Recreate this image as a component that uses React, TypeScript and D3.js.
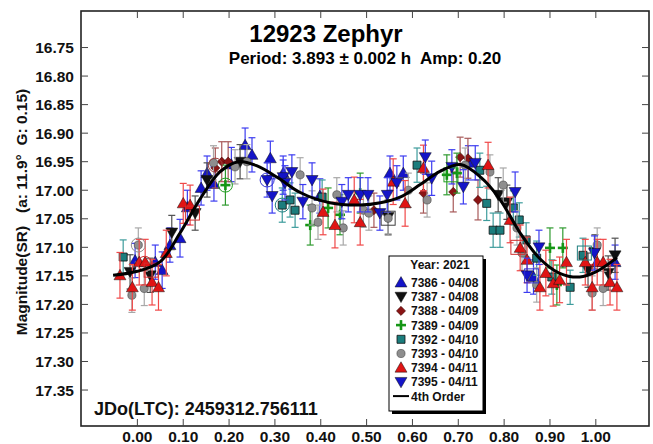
import React from "react";
import * as d3 from "d3";

// Phase-folded photometry, one array per session: [phase, magnitude, error]
const s7386: number[][] = [
  [-0.005, 17.123, 0.03], [0.039, 17.126, 0.03], [0.054, 17.14, 0.032], [0.071, 17.096, 0.03],
  [0.093, 17.084, 0.033], [0.109, 17.03, 0.03], [0.139, 16.996, 0.03], [0.152, 16.97, 0.03],
  [0.167, 16.989, 0.03], [0.205, 16.955, 0.03], [0.235, 16.921, 0.03], [0.25, 16.938, 0.03],
  [0.29, 16.944, 0.03], [0.318, 16.97, 0.03], [0.398, 17.01, 0.03], [0.551, 16.97, 0.03],
  [0.58, 16.97, 0.03], [0.722, 16.952, 0.03], [0.864, 17.152, 0.03], [1.042, 17.126, 0.03],
];
const s7387: number[][] = [
  [-0.016, 17.143, 0.03], [0.028, 17.149, 0.03], [0.075, 17.074, 0.03], [0.126, 17.04, 0.03],
  [0.152, 16.982, 0.03], [0.224, 16.95, 0.03], [0.547, 17.047, 0.03], [0.787, 17.008, 0.03],
  [0.806, 17.021, 0.03], [0.983, 17.14, 0.03], [0.998, 17.108, 0.03], [1.027, 17.145, 0.03],
  [1.042, 17.114, 0.03],
];
const s7388: number[][] = [
  [0.17, 16.961, 0.035], [0.184, 16.95, 0.035], [0.198, 16.95, 0.035], [0.516, 17.035, 0.03],
  [0.624, 17.005, 0.035], [0.689, 17.003, 0.035], [0.704, 16.942, 0.035], [0.721, 16.944, 0.035],
  [0.743, 17.017, 0.035],
];
const s7389: number[][] = [
  [0.192, 16.991, 0.035], [0.377, 17.061, 0.035], [0.416, 17.031, 0.035], [0.442, 17.043, 0.035],
  [0.486, 17.005, 0.035], [0.675, 16.973, 0.035], [0.697, 16.97, 0.035], [0.9, 17.101, 0.035],
  [0.915, 17.166, 0.035], [0.928, 17.101, 0.035],
];
const s7392: number[][] = [
  [-0.031, 17.117, 0.03], [0.316, 17.026, 0.03], [0.333, 17.017, 0.03], [0.344, 17.035, 0.03],
  [0.403, 17.012, 0.03], [0.61, 16.956, 0.03], [0.747, 16.965, 0.03], [0.762, 17.023, 0.03],
  [0.776, 17.07, 0.03], [0.791, 17.07, 0.03], [0.82, 17.031, 0.03], [0.833, 17.052, 0.03],
  [0.848, 17.087, 0.03], [0.871, 17.119, 0.03], [0.904, 17.152, 0.03], [0.944, 17.17, 0.03],
  [0.972, 17.114, 0.03],
];
const s7393: number[][] = [
  [-0.012, 17.184, 0.03], [0.002, 17.096, 0.03], [0.015, 17.172, 0.03], [0.166, 16.952, 0.03],
  [0.213, 16.959, 0.03], [0.239, 16.95, 0.03], [0.355, 16.973, 0.03], [0.381, 17.031, 0.03],
  [0.394, 17.056, 0.03], [0.435, 17.008, 0.03], [0.449, 17.066, 0.03], [0.493, 17.035, 0.03],
  [0.505, 17.04, 0.03], [0.547, 17.049, 0.03], [0.591, 17.0, 0.03], [0.632, 17.017, 0.03],
  [0.715, 16.956, 0.03], [0.769, 16.968, 0.03], [0.798, 16.991, 0.03], [0.828, 17.066, 0.03],
  [0.839, 17.11, 0.03], [0.871, 17.166, 0.03], [0.992, 17.18, 0.03], [1.003, 17.096, 0.03],
  [1.016, 17.172, 0.03],
];
const s7394: number[][] = [
  [-0.038, 17.149, 0.04], [-0.011, 17.17, 0.04], [0.004, 17.126, 0.04], [0.017, 17.126, 0.04],
  [0.032, 17.161, 0.04], [0.046, 17.17, 0.04], [0.063, 17.11, 0.04], [0.1, 17.023, 0.035],
  [0.115, 17.026, 0.035], [0.405, 17.038, 0.04], [0.431, 17.061, 0.04], [0.473, 17.017, 0.04],
  [0.486, 17.056, 0.04], [0.558, 16.985, 0.04], [0.584, 17.023, 0.04], [0.624, 16.961, 0.04],
  [0.765, 16.956, 0.04], [0.813, 17.052, 0.04], [0.835, 17.101, 0.04], [0.85, 17.122, 0.04],
  [0.878, 17.17, 0.04], [0.891, 17.145, 0.04], [0.907, 17.163, 0.04], [0.921, 17.157, 0.04],
  [0.936, 17.126, 0.04], [0.977, 17.126, 0.04], [0.992, 17.17, 0.04], [1.003, 17.126, 0.04],
  [1.016, 17.126, 0.04], [1.031, 17.161, 0.04], [1.046, 17.17, 0.04],
];
const s7395: number[][] = [
  [0.283, 16.982, 0.03], [0.294, 17.01, 0.03], [0.318, 16.977, 0.03], [0.322, 16.987, 0.03],
  [0.337, 16.968, 0.03], [0.361, 17.02, 0.03], [0.381, 16.982, 0.03], [0.446, 17.02, 0.03],
  [0.46, 17.008, 0.03], [0.486, 17.008, 0.03], [0.503, 17.008, 0.03], [0.529, 17.04, 0.03],
  [0.545, 17.008, 0.03], [0.566, 16.987, 0.03], [0.628, 16.942, 0.03], [0.642, 16.979, 0.03],
  [0.686, 16.959, 0.03], [0.711, 16.994, 0.03], [0.737, 16.952, 0.03], [0.824, 17.003, 0.035],
  [0.85, 17.149, 0.03], [0.876, 17.1, 0.03], [0.997, 17.11, 0.03],
];

// 4th-order Fourier fit, sampled along phase: [phase, magnitude]
const fitCurve: number[][] = [
  [-0.053, 17.149], [0.0, 17.142], [0.05, 17.125], [0.093, 17.075], [0.137, 17.015],
  [0.18, 16.968], [0.22, 16.95], [0.26, 16.957], [0.31, 16.98], [0.355, 17.004],
  [0.42, 17.022], [0.486, 17.026], [0.53, 17.022], [0.573, 17.012], [0.617, 16.99],
  [0.66, 16.967], [0.705, 16.955], [0.75, 16.978], [0.79, 17.015], [0.835, 17.075],
  [0.878, 17.12], [0.92, 17.145], [0.965, 17.152], [1.0, 17.143], [1.046, 17.118],
];

// Highlighted observations drawn as open outlines: [phase, magnitude]
const ringCircles: number[][] = [[0.002, 17.096], [0.016, 17.128], [0.17, 16.956], [0.192, 16.991], [0.283, 16.982], [0.316, 17.026]];
const ringCircleColors = ["#909090", "#d03030", "#a04040", "#20a020", "#3030d0", "#208080"];
const ringSquares: number[][] = [[0.03, 17.14], [0.12, 17.04], [0.547, 17.049], [0.684, 16.973], [0.83, 17.1], [0.86, 17.15], [0.975, 17.11]];
const ringSquareColors = ["#d03030", "#d03030", "#404040", "#20a020", "#d03030", "#3030d0", "#208080"];

const sessionLabels = ["7386 - 04/08", "7387 - 04/08", "7388 - 04/09", "7389 - 04/09", "7392 - 04/10", "7393 - 04/10", "7394 - 04/11", "7395 - 04/11"];
const xTickValues = [0, 0.1, 0.2, 0.3, 0.4, 0.5, 0.6, 0.7, 0.8, 0.9, 1.0];
const yTickValues = [16.75, 16.8, 16.85, 16.9, 16.95, 17.0, 17.05, 17.1, 17.15, 17.2, 17.25, 17.3, 17.35];

type Shape = "up" | "down" | "diamond" | "plus" | "square" | "circle";
const sessions: { data: number[][]; label: string; shape: Shape; fill: string; bar: string }[] = [
  { data: s7386, label: sessionLabels[0], shape: "up", fill: "#1414c8", bar: "#3c3cf0" },
  { data: s7387, label: sessionLabels[1], shape: "down", fill: "#101010", bar: "#505050" },
  { data: s7388, label: sessionLabels[2], shape: "diamond", fill: "#8a1414", bar: "#a85a5a" },
  { data: s7389, label: sessionLabels[3], shape: "plus", fill: "#159615", bar: "#2f9a2f" },
  { data: s7392, label: sessionLabels[4], shape: "square", fill: "#1b7d7d", bar: "#3d9c9c" },
  { data: s7393, label: sessionLabels[5], shape: "circle", fill: "#8e8e8e", bar: "#a8a8a8" },
  { data: s7394, label: sessionLabels[6], shape: "up", fill: "#e01414", bar: "#f04848" },
  { data: s7395, label: sessionLabels[7], shape: "down", fill: "#1414c8", bar: "#3c3cf0" },
];

const W = 653;
const H = 444;
const L = 81, R = 649, T = 11, B = 426;
const FONT = "'Liberation Sans', Arial, Helvetica, sans-serif";

const x = d3.scaleLinear().domain([-0.123, 1.116]).range([L, R]);
const y = d3.scaleLinear().domain([16.686, 17.413]).range([T, B]);

const triPath = d3.symbol(d3.symbolTriangle, 62)()!;
const sqPath = d3.symbol(d3.symbolSquare, 64)()!;
const circPath = d3.symbol(d3.symbolCircle, 52)()!;
const diaPath = d3.symbol(d3.symbolSquare, 42)()!;

function Marker({ shape, fill, cx, cy }: { shape: Shape; fill: string; cx: number; cy: number }) {
  const t = `translate(${cx},${cy})`;
  switch (shape) {
    case "up":
      return <path d={triPath} transform={`${t} translate(0,1)`} fill={fill} stroke="#111" strokeWidth={0.5} />;
    case "down":
      return <path d={triPath} transform={`${t} translate(0,-1) rotate(180)`} fill={fill} stroke="#111" strokeWidth={0.5} />;
    case "diamond":
      return <path d={diaPath} transform={`${t} rotate(45)`} fill={fill} stroke="#300" strokeWidth={0.5} />;
    case "square":
      return <path d={sqPath} transform={t} fill={fill} stroke="#111" strokeWidth={0.8} />;
    case "circle":
      return <path d={circPath} transform={t} fill={fill} stroke="#444" strokeWidth={0.6} />;
    case "plus":
      return (
        <g transform={t} stroke={fill} strokeWidth={2.6}>
          <line x1={-5} x2={5} y1={0} y2={0} />
          <line x1={0} x2={0} y1={-5} y2={5} />
        </g>
      );
  }
}

export default function App() {
  const line = d3
    .line<number[]>()
    .x((d) => x(d[0]))
    .y((d) => y(d[1]))
    .curve(d3.curveCatmullRom.alpha(0.5));

  const legX = 389, legY = 256, legW = 94, legH = 155;
  const rowY0 = 282.5, rowStep = 14.2;

  return (
    <svg
      width={W}
      height={H}
      viewBox={`0 0 ${W} ${H}`}
      style={{ position: "fixed", left: 0, top: 0, background: "#fff", fontFamily: FONT }}
    >
      <rect x={0} y={0} width={W} height={H} fill="#fff" />

      {/* error bars and markers, session by session */}
      <g>
        {sessions.map((s, si) => (
          <g key={si}>
            {s.data.map((d, i) => {
              const cx = x(d[0]);
              const y1 = y(d[1] - d[2]);
              const y2 = y(d[1] + d[2]);
              return (
                <g key={"b" + i} stroke={s.bar} strokeWidth={1.2}>
                  <line x1={cx} x2={cx} y1={y1} y2={y2} />
                  <line x1={cx - 3.5} x2={cx + 3.5} y1={y1} y2={y1} />
                  <line x1={cx - 3.5} x2={cx + 3.5} y1={y2} y2={y2} />
                </g>
              );
            })}
            {s.data.map((d, i) => (
              <Marker key={"m" + i} shape={s.shape} fill={s.fill} cx={x(d[0])} cy={y(d[1])} />
            ))}
          </g>
        ))}
      </g>

      {/* highlighted points */}
      <g fill="none" strokeWidth={1}>
        {ringCircles.map((d, i) => (
          <circle key={"rc" + i} cx={x(d[0])} cy={y(d[1])} r={7} stroke={ringCircleColors[i]} />
        ))}
        {ringSquares.map((d, i) => (
          <rect key={"rs" + i} x={x(d[0]) - 7} y={y(d[1]) - 7} width={14} height={14} stroke={ringSquareColors[i]} />
        ))}
      </g>

      {/* Fourier fit */}
      <path d={line(fitCurve) ?? ""} fill="none" stroke="#000" strokeWidth={3} />

      {/* frame and ticks */}
      <rect x={L} y={T} width={R - L} height={B - T} fill="none" stroke="#222" strokeWidth={1.6} />
      <g stroke="#444" strokeWidth={1}>
        {xTickValues.map((v) => (
          <g key={"xt" + v}>
            <line x1={x(v)} x2={x(v)} y1={B} y2={B - 7} />
            <line x1={x(v)} x2={x(v)} y1={T} y2={T + 7} />
          </g>
        ))}
        {yTickValues.map((v) => (
          <g key={"yt" + v}>
            <line x1={L} x2={L + 7} y1={y(v)} y2={y(v)} />
            <line x1={R} x2={R - 7} y1={y(v)} y2={y(v)} />
          </g>
        ))}
      </g>

      <g fontWeight="bold" fontSize={15.5} fill="#111">
        {xTickValues.map((v) => (
          <text key={"xl" + v} x={x(v)} y={442} textAnchor="middle">
            {v.toFixed(2)}
          </text>
        ))}
        {yTickValues.map((v) => (
          <text key={"yl" + v} x={74} y={y(v) + 5.5} textAnchor="end">
            {v.toFixed(2)}
          </text>
        ))}
      </g>

      {/* titles */}
      <text x={326} y={42} textAnchor="middle" fontWeight="bold" fontSize={24} fill="#000">
        12923 Zephyr
      </text>
      <text x={365} y={64} textAnchor="middle" fontWeight="bold" fontSize={17} fill="#000" style={{ whiteSpace: "pre" }}>
        {"Period: 3.893 \u00b1 0.002 h  Amp: 0.20"}
      </text>
      <text
        transform={`translate(27,${212}) rotate(-90)`}
        textAnchor="middle"
        fontWeight="bold"
        fontSize={15.5}
        fill="#111"
        style={{ whiteSpace: "pre" }}
      >
        {"Magnitude(SR)   (a: 11.9\u00b0  G: 0.15)"}
      </text>
      <text x={94} y={415} fontWeight="bold" fontSize={18} fill="#111">
        JDo(LTC): 2459312.756111
      </text>

      {/* legend */}
      <rect x={legX + 3} y={legY + 3} width={legW} height={legH} fill="#000" />
      <rect x={legX} y={legY} width={legW} height={legH} fill="#fff" stroke="#000" strokeWidth={1} />
      <g fontWeight="bold" fontSize={12} fill="#111">
        <text x={legX + legW / 2 + 4} y={legY + 13} textAnchor="middle">
          Year: 2021
        </text>
        {sessions.map((s, i) => {
          const ry = rowY0 + i * rowStep;
          return (
            <g key={"lg" + i}>
              <Marker shape={s.shape} fill={s.fill} cx={legX + 12} cy={ry} />
              <text x={legX + 22} y={ry + 4.5}>
                {s.label}
              </text>
            </g>
          );
        })}
        <line
          x1={legX + 4}
          x2={legX + 20}
          y1={rowY0 + 8 * rowStep}
          y2={rowY0 + 8 * rowStep}
          stroke="#000"
          strokeWidth={2}
        />
        <text x={legX + 22} y={rowY0 + 8 * rowStep + 4.5}>
          4th Order
        </text>
      </g>
    </svg>
  );
}
